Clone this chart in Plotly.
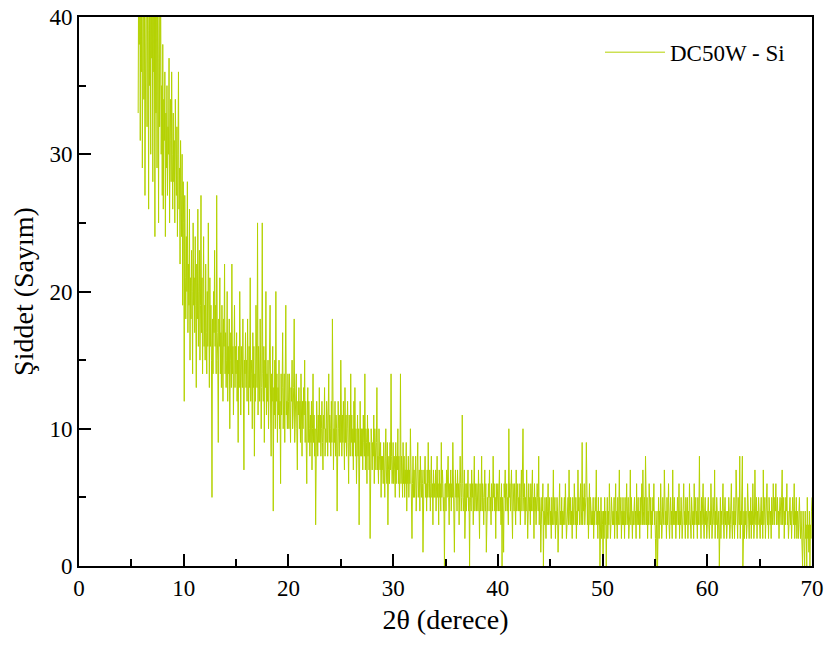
import plotly.graph_objects as go

# Scan grid: rows of counts, one row per degree, 0.05 deg step
step = 0.05
prefix_start = 5.65
prefix_counts = [33, 45, 38, 47, 31, 43, 36]
first_degree = 6
counts_by_degree = [
    [44, 29, 41, 48, 34, 42, 27, 45, 38, 50, 32, 43, 39, 26, 46, 35, 41, 30, 44, 37],  # 6
    [42, 28, 45, 36, 40, 24, 43, 33, 47, 29, 41, 37, 25, 44, 32, 39, 42, 30, 35, 27],  # 7
    [38, 26, 34, 31, 36, 24, 33, 29, 35, 27, 32, 30, 37, 25, 31, 34, 28, 36, 30, 26],  # 8
    [33, 28, 31, 25, 34, 29, 27, 32, 24, 30, 36, 26, 29, 22, 31, 27, 24, 30, 19, 28],  # 9
    [25, 12, 27, 21, 18, 24, 20, 28, 17, 22, 19, 26, 15, 21, 18, 23, 20, 14, 25, 19],  # 10
    [21, 17, 24, 19, 13, 22, 18, 26, 16, 20, 23, 15, 19, 27, 17, 21, 14, 18, 24, 16],  # 11
    [19, 15, 22, 17, 14, 20, 16, 25, 18, 13, 21, 16, 19, 15, 5, 18, 14, 20, 17, 23],  # 12
    [16, 19, 14, 27, 17, 15, 9, 18, 16, 21, 14, 17, 13, 19, 15, 12, 18, 16, 22, 14],  # 13
    [17, 13, 15, 20, 12, 16, 14, 18, 10, 15, 17, 13, 22, 14, 16, 11, 15, 19, 13, 16],  # 14
    [14, 17, 12, 15, 9, 16, 13, 20, 14, 11, 16, 15, 13, 18, 12, 7, 15, 14, 17, 13],  # 15
    [15, 12, 18, 14, 11, 16, 13, 21, 12, 15, 14, 10, 17, 13, 16, 8, 14, 12, 19, 15],  # 16
    [13, 25, 11, 16, 14, 12, 18, 15, 10, 13, 25, 14, 12, 16, 9, 15, 13, 20, 11, 14],  # 17
    [12, 15, 10, 14, 13, 19, 11, 8, 14, 12, 16, 4, 13, 11, 15, 10, 20, 12, 14, 9],  # 18
    [13, 11, 15, 10, 12, 6, 14, 11, 13, 17, 10, 12, 14, 9, 13, 19, 11, 12, 10, 14],  # 19
    [12, 10, 14, 11, 9, 13, 12, 15, 10, 11, 13, 18, 9, 12, 11, 14, 10, 7, 12, 11],  # 20
    [13, 10, 12, 9, 14, 11, 8, 12, 10, 13, 11, 15, 9, 12, 10, 6, 11, 13, 9, 12],  # 21
    [10, 8, 11, 9, 12, 7, 10, 14, 9, 11, 8, 10, 3, 9, 12, 10, 8, 11, 9, 13],  # 22
    [9, 11, 8, 10, 12, 9, 7, 11, 10, 13, 8, 10, 9, 12, 11, 8, 10, 14, 9, 11],  # 23
    [10, 8, 12, 9, 18, 11, 7, 10, 9, 12, 8, 11, 10, 4, 9, 12, 10, 8, 11, 9],  # 24
    [15, 10, 8, 11, 9, 12, 10, 7, 13, 9, 11, 8, 10, 12, 9, 6, 11, 10, 8, 14],  # 25
    [9, 11, 8, 10, 7, 12, 9, 13, 8, 10, 6, 9, 11, 8, 10, 3, 9, 12, 8, 10],  # 26
    [8, 10, 7, 11, 9, 8, 14, 7, 10, 9, 6, 11, 8, 10, 7, 9, 2, 8, 10, 9],  # 27
    [7, 9, 8, 11, 6, 10, 8, 7, 9, 13, 7, 8, 6, 10, 8, 7, 9, 5, 8, 7],  # 28
    [8, 6, 9, 7, 5, 8, 10, 7, 6, 9, 3, 7, 8, 6, 9, 7, 14, 8, 6, 7],  # 29
    [9, 6, 8, 7, 5, 9, 6, 8, 7, 10, 6, 8, 5, 7, 14, 6, 8, 7, 5, 9],  # 30
    [6, 8, 5, 7, 6, 9, 4, 7, 6, 8, 5, 7, 6, 10, 5, 7, 2, 6, 8, 5],  # 31
    [7, 5, 6, 8, 4, 7, 6, 9, 5, 6, 7, 4, 8, 6, 5, 7, 6, 1, 5, 7],  # 32
    [6, 8, 5, 6, 4, 7, 5, 9, 6, 5, 7, 4, 6, 8, 5, 6, 3, 7, 5, 6],  # 33
    [5, 7, 4, 6, 8, 5, 6, 3, 7, 5, 6, 4, 9, 5, 7, 6, 4, 5, 0, 6],  # 34
    [6, 4, 7, 5, 6, 8, 5, 3, 6, 5, 7, 4, 6, 5, 9, 4, 6, 1, 5, 7],  # 35
    [5, 6, 4, 7, 5, 6, 3, 5, 8, 6, 4, 5, 11, 6, 4, 5, 7, 2, 5, 6],  # 36
    [4, 6, 5, 7, 4, 5, 0, 6, 5, 4, 7, 5, 6, 3, 5, 8, 4, 6, 5, 4],  # 37
    [6, 5, 4, 7, 5, 2, 6, 4, 5, 8, 4, 6, 5, 3, 5, 7, 4, 6, 1, 5],  # 38
    [5, 4, 6, 5, 7, 4, 5, 3, 6, 5, 4, 8, 5, 6, 4, 5, 2, 6, 4, 5],  # 39
    [6, 4, 5, 7, 4, 5, 3, 6, 0, 5, 4, 1, 6, 5, 7, 4, 5, 6, 4, 5],  # 40
    [3, 10, 5, 6, 4, 5, 7, 4, 2, 6, 5, 4, 6, 5, 3, 7, 4, 5, 6, 4],  # 41
    [5, 4, 6, 3, 5, 7, 4, 6, 10, 5, 4, 6, 3, 5, 4, 7, 5, 2, 4, 6],  # 42
    [4, 5, 3, 6, 4, 5, 7, 4, 5, 2, 6, 4, 5, 3, 4, 6, 5, 4, 8, 3],  # 43
    [5, 4, 1, 3, 5, 4, 6, 0, 4, 3, 5, 4, 2, 5, 3, 4, 6, 3, 4, 5],  # 44
    [3, 4, 2, 5, 3, 4, 7, 3, 4, 5, 2, 4, 3, 5, 4, 1, 3, 4, 6, 3],  # 45
    [4, 3, 5, 2, 4, 3, 4, 5, 3, 6, 4, 2, 3, 4, 5, 3, 7, 4, 3, 5],  # 46
    [3, 4, 2, 5, 4, 3, 6, 4, 3, 5, 2, 4, 3, 7, 4, 5, 3, 4, 6, 3],  # 47
    [4, 9, 3, 5, 4, 6, 3, 4, 5, 9, 4, 3, 5, 2, 4, 6, 3, 5, 4, 3],  # 48
    [4, 3, 5, 2, 4, 3, 5, 4, 7, 3, 4, 2, 5, 3, 4, 0, 3, 5, 2, 4],  # 49
    [3, 0, 4, 2, 5, 3, 4, 0, 3, 5, 2, 4, 3, 6, 4, 2, 3, 5, 4, 3],  # 50
    [4, 3, 5, 2, 4, 6, 3, 4, 2, 5, 3, 4, 7, 3, 4, 5, 2, 4, 3, 5],  # 51
    [3, 4, 2, 5, 3, 4, 6, 3, 4, 5, 2, 3, 4, 7, 3, 5, 4, 2, 4, 3],  # 52
    [4, 5, 3, 4, 2, 6, 3, 4, 5, 3, 4, 2, 5, 3, 4, 6, 3, 7, 4, 3],  # 53
    [5, 3, 8, 4, 3, 5, 2, 4, 3, 6, 4, 3, 5, 2, 4, 3, 5, 4, 6, 3],  # 54
    [4, 2, 0, 3, 4, 0, 3, 5, 2, 4, 3, 6, 4, 2, 3, 5, 4, 3, 7, 4],  # 55
    [3, 4, 2, 5, 3, 4, 6, 3, 2, 4, 5, 3, 4, 2, 7, 3, 4, 5, 3, 4],  # 56
    [2, 4, 3, 5, 4, 3, 6, 2, 4, 3, 5, 4, 2, 3, 4, 6, 3, 4, 2, 5],  # 57
    [3, 4, 5, 2, 4, 3, 6, 4, 3, 2, 5, 4, 3, 4, 2, 6, 3, 4, 5, 3],  # 58
    [4, 2, 5, 3, 4, 8, 3, 4, 2, 5, 3, 4, 6, 3, 2, 4, 5, 3, 4, 2],  # 59
    [3, 4, 5, 3, 2, 4, 3, 6, 4, 2, 3, 5, 4, 3, 7, 2, 4, 3, 5, 4],  # 60
    [2, 3, 4, 0, 3, 5, 2, 4, 3, 4, 6, 3, 2, 4, 5, 3, 4, 2, 3, 4],  # 61
    [3, 5, 4, 2, 3, 4, 6, 3, 2, 4, 3, 5, 2, 4, 3, 7, 4, 3, 2, 5],  # 62
    [4, 3, 8, 2, 4, 3, 5, 8, 0, 3, 4, 2, 5, 3, 4, 2, 3, 6, 4, 3],  # 63
    [2, 4, 3, 5, 2, 4, 3, 6, 4, 2, 3, 7, 4, 3, 5, 2, 4, 3, 5, 4],  # 64
    [3, 2, 4, 5, 3, 4, 2, 7, 3, 4, 5, 2, 3, 4, 6, 3, 4, 2, 5, 4],  # 65
    [3, 4, 2, 5, 4, 3, 6, 4, 3, 5, 4, 6, 3, 4, 5, 3, 4, 2, 4, 5],  # 66
    [4, 3, 5, 7, 3, 4, 5, 2, 4, 3, 5, 4, 6, 3, 4, 2, 3, 4, 5, 3],  # 67
    [4, 2, 3, 5, 4, 3, 6, 2, 4, 3, 5, 2, 4, 3, 2, 4, 5, 3, 2, 4],  # 68
    [3, 2, 0, 4, 3, 1, 0, 4, 2, 3, 0, 5, 2, 3, 1, 4, 0, 3, 2, 4],  # 69
    [5],  # 70
]

series_name = "DC50W - Si"
x_title = "2θ (derece)"
y_title = "Şiddet (Sayım)"
x_ticks = [0, 10, 20, 30, 40, 50, 60, 70]
y_ticks = [0, 10, 20, 30, 40]

two_theta = [round(prefix_start + step * j, 2) for j in range(len(prefix_counts))]
counts = list(prefix_counts)
for k, row in enumerate(counts_by_degree):
    for j, v in enumerate(row):
        two_theta.append(round(first_degree + k + step * j, 2))
        counts.append(v)

line_color = "#b4d200"
font_family = "Liberation Serif"

fig = go.Figure()
fig.add_trace(go.Scatter(
    x=two_theta, y=counts, mode="lines", name=series_name,
    line=dict(color=line_color, width=1),
))

axis_common = dict(
    showline=True, linecolor="black", linewidth=2, mirror=True,
    ticks="inside", tickwidth=2, tickcolor="black",
    showgrid=False, zeroline=False, automargin=False,
    tickfont=dict(family=font_family, size=23, color="black"),
)

fig.update_xaxes(
    range=[0, 70], tickvals=x_ticks, ticklen=12,
    minor=dict(dtick=5, ticks="inside", ticklen=7, tickwidth=2, tickcolor="black"),
    title=dict(text=x_title, font=dict(family=font_family, size=28, color="black"), standoff=10),
    **axis_common,
)
fig.update_yaxes(
    range=[0, 40], tickvals=y_ticks, ticklen=12,
    minor=dict(dtick=5, ticks="inside", ticklen=7, tickwidth=2, tickcolor="black"),
    title=dict(text=y_title, font=dict(family=font_family, size=28, color="black"), standoff=8),
    **axis_common,
)

fig.update_layout(
    width=831, height=646,
    margin=dict(l=79, r=19, t=17, b=80),
    paper_bgcolor="white", plot_bgcolor="white",
    font=dict(family=font_family, color="black"),
    showlegend=True,
    legend=dict(
        x=0.97, y=0.975, xanchor="right", yanchor="top",
        bgcolor="rgba(0,0,0,0)", itemwidth=60,
        font=dict(family=font_family, size=23, color="black"),
    ),
)

fig.write_html("out.html")
